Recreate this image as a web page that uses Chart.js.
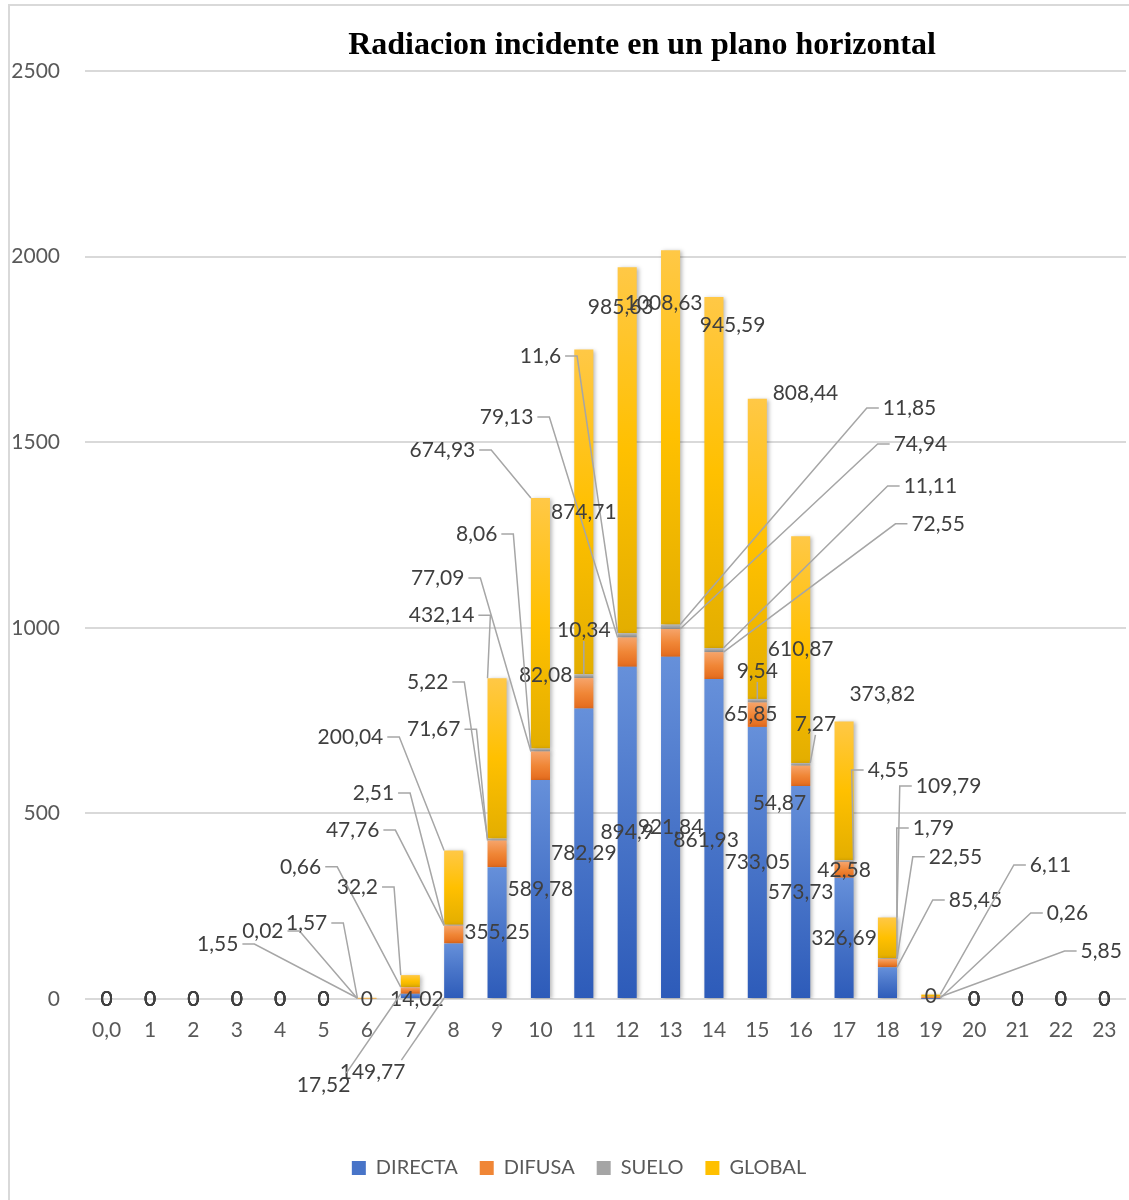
<!DOCTYPE html>
<html lang="es">
<head>
<meta charset="UTF-8" />
<title>Radiacion incidente en un plano horizontal</title>
<script src="https://cdn.jsdelivr.net/npm/chart.js"></script>
<style>
  * { margin: 0; padding: 0; box-sizing: border-box; }
  body { background: #fff; width: 1129px; height: 1200px; overflow: hidden; position: relative; }
  .frame {
    position: absolute; left: 8px; top: 4px; width: 1140px; height: 1220px;
    border: 2px solid #d9d9d9;
  }
  canvas { position: absolute; left: 0; top: 0; }
</style>
</head>
<body>
<div class="frame"></div>
<canvas id="chart" width="1129" height="1200"></canvas>

<script>
  // data
  const hours = ['0,0','1','2','3','4','5','6','7','8','9','10','11','12','13','14','15','16','17','18','19','20','21','22','23'];
  const directa = [0,0,0,0,0,0,0,14.02,149.77,355.25,589.78,782.29,894.9,921.84,861.93,733.05,573.73,326.69,85.45,0.26,0,0,0,0];
  const difusa = [0,0,0,0,0,0,1.55,17.52,47.76,71.67,77.09,82.08,79.13,74.94,72.55,65.85,54.87,42.58,22.55,5.85,0,0,0,0];
  const suelo = [0,0,0,0,0,0,0.02,0.66,2.51,5.22,8.06,10.34,11.6,11.85,11.11,9.54,7.27,4.55,1.79,0,0,0,0,0];
  const globalRad = [0,0,0,0,0,0,1.57,32.2,200.04,432.14,674.93,874.71,985.63,1008.63,945.59,808.44,610.87,373.82,109.79,6.11,0,0,0,0];
  const yTicks = [0, 500, 1000, 1500, 2000, 2500];

  const series = [directa, difusa, suelo, globalRad];
  const names = ['DIRECTA', 'DIFUSA', 'SUELO', 'GLOBAL'];
  const stops = [
    ['#6690da', '#4874c8', '#2d5bb9'],
    ['#f6a46a', '#f08636', '#e46a1c'],
    ['#b8b8b8', '#a5a5a5', '#949494'],
    ['#ffc846', '#ffc000', '#e3ae00']
  ];

  // moved data labels (Excel callouts): [category, value, leader line]
  const labelPos = [
    {7:[7.15,0,0], 8:[6.13,-197,1], 14:[13.82,428,0], 18:[20.03,267,1], 19:[22.15,232,1]},
    {6:[2.56,148,1], 7:[5.0,-232,1], 8:[5.67,455,1], 9:[7.54,727,1], 10:[7.63,1134,1], 11:[10.12,873,0],
     12:[9.22,1568,1], 13:[18.76,1495,1], 14:[19.17,1280,1], 15:[14.85,768,0], 16:[15.51,528,0],
     18:[19.57,383,1], 19:[22.93,129,1]},
    {6:[3.60,183,1], 7:[4.47,356,1], 8:[6.15,555,1], 9:[7.40,854,1], 10:[8.53,1253,1], 11:[11.0,994,1],
     12:[10.0,1732,1], 13:[18.51,1592,1], 14:[18.99,1382,1], 15:[15.0,884,1], 16:[16.34,741,1],
     17:[18.02,617,1], 18:[19.06,461,1]},
    {6:[4.61,205,1], 7:[5.78,302,1], 8:[5.62,706,1], 9:[7.72,1034,1], 10:[7.74,1479,1], 12:[11.85,1864,0],
     13:[12.84,1875,0], 14:[14.43,1816,0], 15:[16.11,1633,0], 17:[17.88,822,0], 18:[19.41,574,1], 19:[21.76,361,1]}
  ];

  function fmt(v) { return String(v).replace('.', ','); }

  function gradFill(c, ds) {
    const chart = c.chart;
    if (c.type !== 'data' || !chart.chartArea) return stops[ds][1];
    const i = c.dataIndex;
    let start = 0;
    for (let k = 0; k < ds; k++) start += series[k][i];
    const end = start + series[ds][i];
    const y = chart.scales.y;
    const y0 = y.getPixelForValue(end), y1 = y.getPixelForValue(start);
    if (y1 - y0 < 1) return stops[ds][1];
    const g = chart.ctx.createLinearGradient(0, y0, 0, y1);
    g.addColorStop(0, stops[ds][0]);
    g.addColorStop(0.5, stops[ds][1]);
    g.addColorStop(1, stops[ds][2]);
    return g;
  }

  const labelFont = '21px Lato';

  const excelLabels = {
    id: 'excelLabels',
    afterLayout(chart) {
      // legend sits a bit right of the canvas centre in the original
      chart.legend.left += 16;
      chart.legend.right += 16;
    },
    beforeDatasetsDraw(chart) {
      const ctx = chart.ctx;
      ctx.save();
      ctx.shadowColor = 'rgba(0,0,0,0.28)';
      ctx.shadowBlur = 4;
      ctx.shadowOffsetX = 2;
      ctx.shadowOffsetY = 1;
    },
    afterDatasetsDraw(chart) {
      const ctx = chart.ctx;
      ctx.restore();
      const xs = chart.scales.x, ys = chart.scales.y;
      ctx.save();
      ctx.font = labelFont;
      ctx.textAlign = 'center';
      ctx.textBaseline = 'middle';
      series.forEach((data, ds) => {
        const meta = chart.getDatasetMeta(ds);
        data.forEach((v, i) => {
          const el = meta.data[i];
          const top = Math.min(el.y, el.base), bottom = Math.max(el.y, el.base);
          const left = el.x - el.width / 2, right = el.x + el.width / 2;
          const txt = fmt(v);
          const p = labelPos[ds][i];
          let lx = el.x, ly = (top + bottom) / 2;
          if (p) {
            lx = xs.getPixelForValue(p[0]);
            ly = ys.getPixelForValue(p[1]);
          }
          if (p && p[2]) {
            const w = ctx.measureText(txt).width;
            const ax = Math.min(Math.max(lx, left), right);
            const ay = Math.min(Math.max(ly, top), bottom);
            ctx.strokeStyle = '#a6a6a6';
            ctx.lineWidth = 1.5;
            ctx.beginPath();
            if (ax >= lx - w / 2 && ax <= lx + w / 2) {
              const sy = ay > ly ? ly + 11 : ly - 11;
              ctx.moveTo(lx, sy);
              ctx.lineTo(ax, ay);
            } else if (ly - ay > 40) {
              // label well below the bar: leave from its upper corner
              const dir = ax > lx ? 1 : -1;
              ctx.moveTo(lx + dir * (w / 2 - 4), ly - 12);
              ctx.lineTo(ax, ay);
            } else {
              const dir = ax > lx ? 1 : -1;
              const sx = lx + dir * (w / 2 + 4);
              ctx.moveTo(sx, ly);
              ctx.lineTo(sx + dir * 12, ly);
              ctx.lineTo(ax, ay);
            }
            ctx.stroke();
          }
          ctx.fillStyle = '#3f3f3f';
          ctx.fillText(txt, lx, ly);
        });
      });
      ctx.restore();
    },
    afterDraw(chart) {
      const ctx = chart.ctx;
      ctx.save();
      ctx.font = 'bold 32px "Liberation Serif"';
      ctx.fillStyle = '#000';
      ctx.textAlign = 'center';
      ctx.textBaseline = 'middle';
      ctx.fillText('Radiacion incidente en un plano horizontal', 642, 46);
      ctx.restore();
    }
  };

  new Chart(document.getElementById('chart'), {
    type: 'bar',
    data: {
      labels: hours,
      datasets: series.map((d, k) => ({
        label: names[k],
        data: d,
        backgroundColor: (c) => gradFill(c, k),
        borderWidth: 0,
        categoryPercentage: 1,
        barPercentage: 0.44
      }))
    },
    options: {
      responsive: false,
      animation: false,
      devicePixelRatio: 1,
      layout: { padding: { top: 71, right: 3, left: 0, bottom: 12 } },
      plugins: {
        tooltip: { enabled: false },
        title: { display: false },
        legend: {
          position: 'bottom',
          labels: {
            font: { family: 'Lato', size: 20 },
            color: '#595959',
            boxWidth: 14,
            boxHeight: 14,
            padding: 22,
            generateLabels: () => names.map((n, k) => ({
              text: n, fillStyle: stops[k][1], strokeStyle: stops[k][1], lineWidth: 0,
              hidden: false, datasetIndex: k, fontColor: '#595959'
            }))
          }
        }
      },
      scales: {
        x: {
          stacked: true,
          grid: { display: false },
          border: { display: false },
          ticks: { font: { family: 'Lato', size: 21 }, color: '#595959', padding: 11, maxRotation: 0, autoSkip: false },
          afterFit: (s) => { s.height = 137; }
        },
        y: {
          stacked: true,
          min: 0,
          max: 2500,
          afterBuildTicks: (s) => { s.ticks = yTicks.map(v => ({ value: v })); },
          grid: { color: '#d9d9d9', lineWidth: 2, drawTicks: false },
          border: { display: false },
          ticks: { font: { family: 'Lato', size: 21 }, color: '#595959', padding: 25, callback: (v) => String(v) },
          afterFit: (s) => { s.width = 85; }
        }
      }
    },
    plugins: [excelLabels]
  });
</script>
</body>
</html>
